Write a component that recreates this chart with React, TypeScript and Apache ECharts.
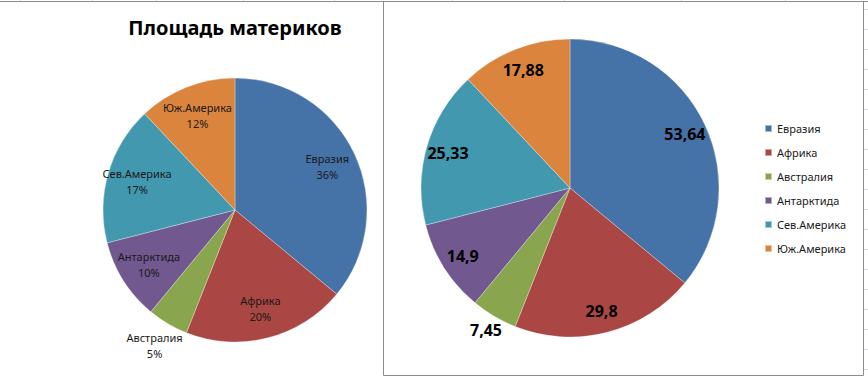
import React, { useEffect, useRef } from "react";
import * as echarts from "echarts";

const categories = ["Евразия", "Африка", "Австралия", "Антарктида", "Сев.Америка", "Юж.Америка"];
const areaValues = [53.64, 29.8, 7.45, 14.9, 25.33, 17.88];
const sliceColors = ["#4572A7", "#AA4643", "#89A54E", "#71588F", "#4198AF", "#DB843D"];
const titleText = "Площадь материков";
const outsideLabelName = "Австралия";

const FONT = "'Noto Sans', 'Open Sans', sans-serif";

export default function App() {
  const ref = useRef<HTMLDivElement>(null);

  useEffect(() => {
    document.body.style.margin = "0";
    if (!ref.current) return;
    const chart = echarts.init(ref.current, undefined, { renderer: "svg" });

    const baseData = categories.map((name, i) => ({
      name,
      value: areaValues[i],
      itemStyle: { color: sliceColors[i] },
    }));
    const labelData = (showOutside: boolean) =>
      categories.map((name, i) => ({
        name,
        value: areaValues[i],
        label: { show: showOutside ? name === outsideLabelName : name !== outsideLabelName },
      }));

    const leftCenter = [235, 210];
    const rightCenter = [570, 188];
    const leftR = 132;
    const rightR = 149;

    const pieBase = {
      type: "pie" as const,
      startAngle: 90,
      clockwise: true,
      silent: true,
      percentPrecision: 0,
      emphasis: { disabled: true },
      labelLine: { show: false },
    };

    const overlayStyle = { color: "rgba(0,0,0,0)", borderWidth: 0 };

    const leftLabel = {
      position: "inside" as const,
      formatter: "{b}\n{d}%",
      fontFamily: FONT,
      fontSize: 11,
      lineHeight: 16,
      color: "#1a1a1a",
    };
    const rightLabel = {
      position: "inside" as const,
      formatter: (p: any) => String(p.value).replace(".", ","),
      fontFamily: FONT,
      fontSize: 16,
      fontWeight: "bold" as const,
      color: "#000",
    };

    const rowLines: any[] = [];
    for (let y = 9.5; y < 377; y += 20) {
      rowLines.push({
        type: "line",
        shape: { x1: 864, y1: y, x2: 868, y2: y },
        style: { stroke: "#d0d7e5", lineWidth: 1 },
      });
    }
    const colXs = [20, 92, 156, 243, 334, 452, 564, 681, 785];
    const colLines = colXs.map((x) => ({
      type: "line",
      shape: { x1: x + 0.5, y1: 0, x2: x + 0.5, y2: 1 },
      style: { stroke: "#d0d7e5", lineWidth: 1 },
    }));

    chart.setOption({
      animation: false,
      backgroundColor: "#ffffff",
      color: sliceColors,
      legend: {
        data: categories,
        orient: "vertical",
        left: 759,
        top: 117,
        icon: "rect",
        itemWidth: 7,
        itemHeight: 7,
        itemGap: 11,
        selectedMode: false,
        textStyle: { fontFamily: FONT, fontSize: 11, color: "#1a1a1a", lineHeight: 13 },
      },
      graphic: [
        ...rowLines,
        ...colLines,
        {
          type: "line",
          shape: { x1: 0, y1: 1.5, x2: 868, y2: 1.5 },
          style: { stroke: "#8c8c8c", lineWidth: 1 },
        },
        {
          type: "rect",
          shape: { x: 383.5, y: 1.5, width: 480, height: 374 },
          style: { stroke: "#8c8c8c", fill: "none", lineWidth: 1 },
        },
        {
          type: "text",
          x: 235,
          y: 27,
          style: {
            text: titleText,
            fontFamily: FONT,
            fontSize: 20,
            fontWeight: "bold",
            fill: "#000",
            textAlign: "center",
            textVerticalAlign: "middle",
          },
        },
      ],
      series: [
        {
          ...pieBase,
          name: "left",
          center: leftCenter,
          radius: leftR,
          label: { show: false },
          itemStyle: { borderColor: "rgba(255,255,255,0.5)", borderWidth: 0.6 },
          data: baseData,
        },
        {
          ...pieBase,
          name: "leftLabels",
          center: leftCenter,
          radius: [66, leftR],
          itemStyle: overlayStyle,
          label: leftLabel,
          data: labelData(false),
        },
        {
          ...pieBase,
          name: "leftOutside",
          center: leftCenter,
          radius: [140, 170],
          itemStyle: overlayStyle,
          label: leftLabel,
          data: labelData(true),
        },
        {
          ...pieBase,
          name: "right",
          center: rightCenter,
          radius: rightR,
          label: { show: false },
          itemStyle: { borderColor: "rgba(255,255,255,0.5)", borderWidth: 0.6 },
          data: baseData,
        },
        {
          ...pieBase,
          name: "rightLabels",
          center: rightCenter,
          radius: [99, rightR],
          itemStyle: overlayStyle,
          label: rightLabel,
          data: labelData(false),
        },
        {
          ...pieBase,
          name: "rightOutside",
          center: rightCenter,
          radius: [150, 174],
          itemStyle: overlayStyle,
          label: rightLabel,
          data: labelData(true),
        },
      ],
    });

    return () => chart.dispose();
  }, []);

  return <div ref={ref} style={{ width: 868, height: 377 }} />;
}
